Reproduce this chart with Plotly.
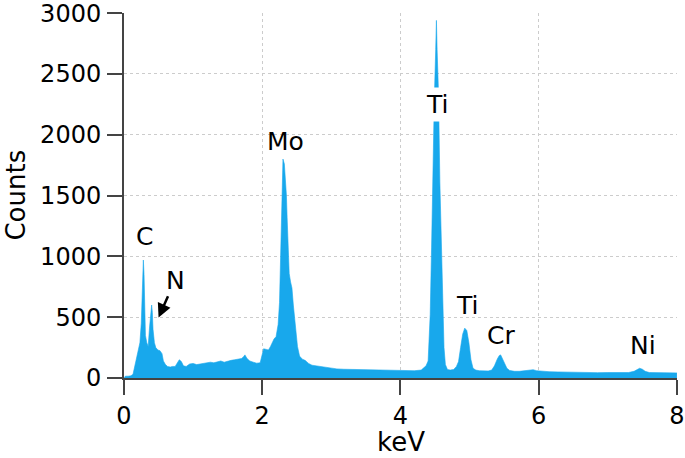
import plotly.graph_objects as go

# Spectrum (energy in keV, counts)
energy_kev = [
    0.00, 0.02, 0.06, 0.10, 0.13, 0.15, 0.18, 0.21, 0.23, 0.25, 0.26, 0.27, 0.28, 0.29, 0.30,
    0.31, 0.33, 0.35, 0.37, 0.39, 0.40, 0.41, 0.42, 0.44, 0.46, 0.49, 0.52, 0.55, 0.57, 0.60,
    0.63, 0.67, 0.70, 0.74, 0.77, 0.80, 0.83, 0.86, 0.90, 0.95, 1.00, 1.05, 1.10, 1.15, 1.20,
    1.25, 1.30, 1.35, 1.40, 1.45, 1.50, 1.55, 1.60, 1.65, 1.70, 1.73, 1.75, 1.78, 1.82, 1.87,
    1.92, 1.97, 2.00, 2.02, 2.06, 2.09, 2.12, 2.14, 2.17, 2.20, 2.23, 2.25, 2.27, 2.28, 2.29,
    2.30, 2.32, 2.33, 2.35, 2.36, 2.38, 2.39, 2.41, 2.43, 2.45, 2.47, 2.49, 2.51, 2.54, 2.58,
    2.62, 2.67, 2.72, 2.78, 2.85, 2.92, 3.00, 3.08, 3.18, 3.30, 3.45, 3.60, 3.75, 3.90, 4.05,
    4.20, 4.30, 4.37, 4.40, 4.43, 4.45, 4.47, 4.49, 4.51, 4.52, 4.53, 4.55, 4.57, 4.59, 4.61,
    4.63, 4.65, 4.68, 4.72, 4.77, 4.81, 4.84, 4.87, 4.90, 4.93, 4.96, 4.99, 5.02, 5.05, 5.09,
    5.14, 5.20, 5.27, 5.32, 5.36, 5.40, 5.43, 5.45, 5.48, 5.51, 5.54, 5.58, 5.65, 5.72, 5.80,
    5.87, 5.92, 5.97, 6.05, 6.15, 6.28, 6.40, 6.55, 6.70, 6.85, 7.00, 7.15, 7.30, 7.38, 7.42,
    7.46, 7.50, 7.54, 7.60, 7.70, 7.85, 8.00,
]
counts = [
    0, 15, 15, 18, 30, 80, 150, 230, 290, 450, 650, 880, 970, 850, 520,
    350, 290, 260, 420, 560, 600, 540, 400, 290, 250, 230, 225, 200, 140, 110,
    95, 90, 95, 95, 120, 150, 135, 100, 95, 115, 120, 110, 115, 120, 125,
    130, 125, 135, 140, 130, 140, 145, 150, 155, 160, 175, 190, 160, 140, 130,
    122, 125, 200, 240, 235, 230, 260, 285, 320, 340, 440, 620, 1100, 1400, 1650,
    1800, 1760, 1690, 1500, 1320, 1000, 860, 790, 740, 600, 480, 350, 260, 180, 155,
    145, 120, 105, 100, 95, 88, 80, 75, 72, 70, 68, 65, 66, 62, 62,
    60, 65, 100, 140, 520, 1070, 1890, 2300, 2700, 2940, 2700, 2350, 1610, 1100, 600,
    250, 110, 70, 65, 70, 95, 135, 250, 360, 410, 390, 290, 150, 80, 65,
    60, 60, 58, 65, 100, 155, 185, 190, 155, 110, 80, 62, 55, 55, 58,
    62, 68, 60, 55, 52, 50, 48, 46, 45, 44, 45, 44, 45, 55, 68,
    80, 72, 55, 45, 43, 42, 42,
]

# Element labels
label_text = ["C", "N", "Mo", "Ti", "Ti", "Cr", "Ni"]
label_x = [0.30, 0.74, 2.34, 4.53, 4.96, 5.46, 7.51]
label_y = [1161, 805, 1947, 2252, 600, 353, 271]
# N arrow tip
n_arrow_x = 0.50
n_arrow_y = 498

x_ticks = [0, 2, 4, 6, 8]
y_ticks = [0, 500, 1000, 1500, 2000, 2500, 3000]

FONT = "DejaVu Sans, Liberation Sans, Arial, sans-serif"
BLUE = "#18A8EC"

fig = go.Figure()
fig.add_trace(go.Scatter(
    x=energy_kev, y=counts, mode="lines", fill="tozeroy",
    line=dict(color=BLUE, width=0.6), fillcolor=BLUE, hoverinfo="skip",
))

for t, x, y in zip(label_text, label_x, label_y):
    if t == "N":
        fig.add_annotation(x=n_arrow_x, y=n_arrow_y, ax=x, ay=y, axref="x", ayref="y",
                           text="", showarrow=True, arrowhead=2, arrowsize=1.1,
                           arrowwidth=2.5, arrowcolor="black", standoff=0, startstandoff=16)
        fig.add_annotation(x=x, y=y, text=t, showarrow=False,
                           font=dict(family=FONT, size=25, color="black"))
    elif t == "Ti" and y > 1000:
        fig.add_annotation(x=x, y=y, text=t, showarrow=False, bgcolor="white",
                           borderpad=2, font=dict(family=FONT, size=25, color="black"))
    else:
        fig.add_annotation(x=x, y=y, text=t, showarrow=False,
                           font=dict(family=FONT, size=25, color="black"))

# axis titles placed as text labels
fig.add_annotation(text="Counts", xref="paper", yref="paper", x=-0.197, y=0.5,
                   xanchor="center", yanchor="middle", textangle=-90, showarrow=False,
                   borderpad=0, font=dict(family=FONT, size=26, color="black"))
fig.add_annotation(text="keV", xref="paper", yref="paper", x=0.5, y=-0.1753,
                   xanchor="center", yanchor="middle", showarrow=False,
                   borderpad=0, font=dict(family=FONT, size=26, color="black"))

axis_common = dict(
    showline=True, linecolor="#444444", linewidth=2,
    ticks="outside", ticklen=15, tickwidth=2, tickcolor="#444444",
    showgrid=True, gridcolor="#cccccc", gridwidth=1, griddash="dot",
    zeroline=False, tickfont=dict(family=FONT, size=24, color="black"),
    automargin=False, ticklabeloverflow="allow",
)

fig.update_xaxes(range=[0, 8.001], tickvals=x_ticks, **axis_common)
fig.update_yaxes(range=[0, 3001], tickvals=y_ticks, ticklabelstandoff=1, **axis_common)

fig.update_layout(
    width=685, height=458,
    margin=dict(l=124, r=8, t=13, b=80),
    paper_bgcolor="white", plot_bgcolor="white",
    showlegend=False,
    font=dict(family=FONT),
)

# remove the default page margin so the figure fills the window exactly
fig.write_html("out.html", config={"displayModeBar": False},
               post_script="document.body.style.margin='0px';")
